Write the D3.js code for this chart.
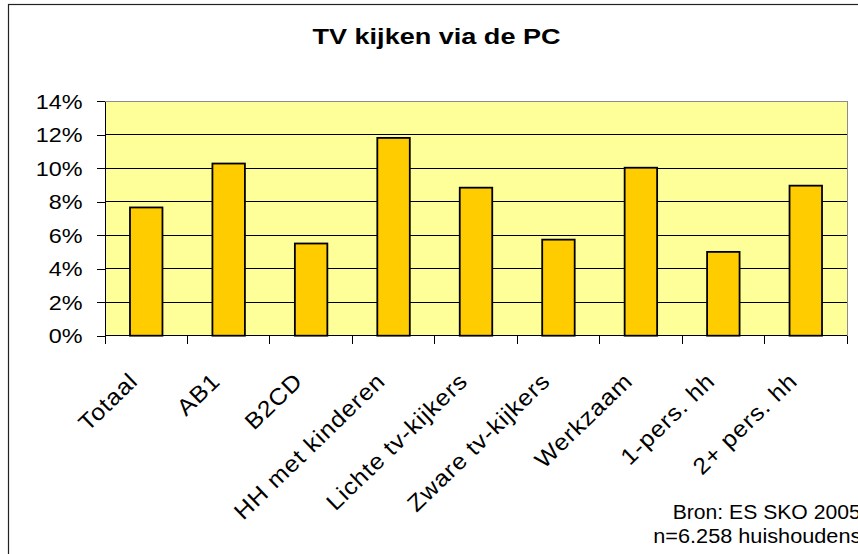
<!DOCTYPE html>
<html><head><meta charset="utf-8">
<script src="https://cdn.jsdelivr.net/npm/d3@7"></script>
<style>html,body{margin:0;padding:0;background:#fff;overflow:hidden}</style>
</head><body>
<svg id="chart" width="858" height="554"></svg>
<script>
const categories = ["Totaal","AB1","B2CD","HH met kinderen","Lichte tv-kijkers","Zware tv-kijkers","Werkzaam","1-pers. hh","2+ pers. hh"];
const values = [0.0765,0.1027,0.055,0.118,0.0883,0.0573,0.1002,0.050,0.0895];
const yTicks = [0,0.02,0.04,0.06,0.08,0.10,0.12,0.14];
const titleText = "TV kijken via de PC";
const sourceLines = ["Bron: ES SKO 2005","n=6.258 huishoudens"];

const plot = {left:105, right:847, top:101, bottom:335.7};
const font = "'Liberation Sans', Arial, Helvetica, sans-serif";
const svg = d3.select("#chart");

// outer chart border (extends past the visible window on right/bottom)
svg.append("rect").attr("x",8.5).attr("y",4.5).attr("width",1000).attr("height",1000)
  .attr("fill","#fff").attr("stroke","#222").attr("stroke-width",1.2);

const x = d3.scaleBand().domain(categories).range([plot.left, plot.right])
  .paddingInner(0.606).paddingOuter(0.303);
const y = d3.scaleLinear().domain([0, 0.14]).range([plot.bottom, plot.top]);

// plot area
svg.append("rect").attr("x",plot.left).attr("y",plot.top)
  .attr("width",plot.right-plot.left).attr("height",plot.bottom-plot.top)
  .attr("fill","#FFFF99").attr("stroke","#8c8c8c").attr("stroke-width",1)
  .attr("shape-rendering","crispEdges");

// gridlines
svg.append("g").selectAll("line")
  .data(yTicks.filter(d => d > 0 && d < 0.14)).join("line")
  .attr("x1",plot.left).attr("x2",plot.right)
  .attr("y1",d => y(d)).attr("y2",d => y(d))
  .attr("stroke","#000").attr("stroke-width",1).attr("shape-rendering","crispEdges");

// bars
svg.append("g").selectAll("rect")
  .data(categories.map((c,i) => ({c, v: values[i]}))).join("rect")
  .attr("x",d => x(d.c)).attr("width",x.bandwidth())
  .attr("y",d => y(d.v)).attr("height",d => y(0) - y(d.v))
  .attr("fill","#FFCC00").attr("stroke","#000").attr("stroke-width",1.8);

// y axis
const yAxis = svg.append("g").attr("transform",`translate(${plot.left},0)`)
  .call(d3.axisLeft(y).tickValues(yTicks).tickFormat(d3.format(".0%")).tickSize(8).tickSizeOuter(0));
yAxis.select(".domain").attr("stroke","#000").attr("shape-rendering","crispEdges");
yAxis.selectAll(".tick line").attr("stroke","#000").attr("shape-rendering","crispEdges");
yAxis.selectAll(".tick text")
  .attr("x",0).attr("dy","0.36em")
  .attr("transform","translate(-22.5,0) scale(1.17,1)")
  .attr("text-anchor","end")
  .style("font-family",font).style("font-size","20px").attr("fill","#000");

// x axis line and category boundary ticks
const gap = (x.step() - x.bandwidth()) / 2;
const bounds = categories.map(c => x(c) - gap).concat([x(categories[categories.length-1]) + x.bandwidth() + gap]);
const xAxis = svg.append("g");
xAxis.append("line").attr("x1",plot.left).attr("x2",plot.right)
  .attr("y1",plot.bottom).attr("y2",plot.bottom)
  .attr("stroke","#000").attr("shape-rendering","crispEdges");
xAxis.selectAll("line.tk").data(bounds).join("line").attr("class","tk")
  .attr("x1",d => d).attr("x2",d => d)
  .attr("y1",plot.bottom).attr("y2",plot.bottom + 8)
  .attr("stroke","#000").attr("shape-rendering","crispEdges");

// rotated category labels
xAxis.selectAll("text.cat").data(categories).join("text").attr("class","cat")
  .attr("transform",d => `translate(${x(d) + x.bandwidth()/2 - 7},${plot.bottom + 47}) rotate(-44) scale(1.08,1)`)
  .attr("text-anchor","end")
  .style("font-family",font).style("font-size","23px").style("letter-spacing","0.8px")
  .attr("fill","#000")
  .text(d => d);

// title
svg.append("text").attr("x",436.5).attr("y",43.5)
  .attr("text-anchor","middle")
  .attr("textLength",248).attr("lengthAdjust","spacingAndGlyphs")
  .style("font-family",font).style("font-size","22px").style("font-weight","bold")
  .attr("fill","#000").text(titleText);

// source note
const srcX = [672.7, 653.3], srcY = [519, 543.3], srcLen = [188, 208];
svg.append("g").selectAll("text").data(sourceLines).join("text")
  .attr("x",(d,i) => srcX[i]).attr("y",(d,i) => srcY[i])
  .attr("textLength",(d,i) => srcLen[i]).attr("lengthAdjust","spacingAndGlyphs")
  .style("font-family",font).style("font-size","19.5px")
  .attr("fill","#000").text(d => d);
</script>
</body></html>
